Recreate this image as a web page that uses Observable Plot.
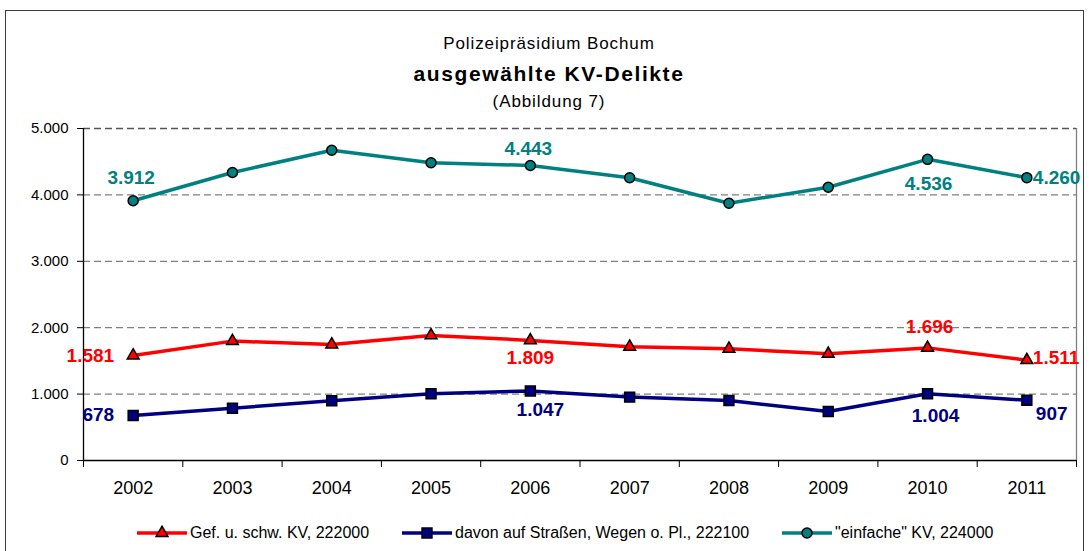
<!DOCTYPE html>
<html><head><meta charset="utf-8">
<script src="https://cdn.jsdelivr.net/npm/d3@7"></script>
<script src="https://cdn.jsdelivr.net/npm/@observablehq/plot@0.6"></script>
<style>
body{margin:0;background:#fff;font-family:"Liberation Sans",Arial,sans-serif}
#wrap{position:relative;width:1090px;height:551px;overflow:hidden;background:#fff}
#chart{position:absolute;left:0;top:0}
#frame{position:absolute;left:5px;top:10px;width:1079px;height:600px;border:1.5px solid #3c3c3c;box-sizing:border-box;pointer-events:none}
.t{position:absolute;left:0;width:1098px;text-align:center;color:#000;white-space:nowrap}
#t1{top:35px;font-size:17px;line-height:17px;letter-spacing:0.9px}
#t2{top:63px;font-size:21px;line-height:21px;font-weight:bold;letter-spacing:1.6px}
#t3{top:93px;font-size:17px;line-height:17px;letter-spacing:0.9px}
.lg{position:absolute;top:523px;height:20px;display:flex;align-items:center;font-size:16px;white-space:nowrap;color:#000}
.lg svg{display:block;margin-right:3px}
</style></head>
<body>
<div id="wrap">
  <div id="chart"></div>
  <div class="t" id="t1"></div>
  <div class="t" id="t2"></div>
  <div class="t" id="t3"></div>
  <div id="legend"></div>
  <div id="frame"></div>
</div>
<script>
// ---- data ----
const years = [2002, 2003, 2004, 2005, 2006, 2007, 2008, 2009, 2010, 2011];
const gefSchw  = [1581, 1798, 1747, 1884, 1809, 1712, 1682, 1606, 1696, 1511];
const strassen = [678, 788, 899, 1005, 1047, 955, 904, 737, 1004, 907];
const einfache = [3912, 4338, 4672, 4485, 4443, 4258, 3874, 4116, 4536, 4260];
const yTicks = [0, 1000, 2000, 3000, 4000, 5000];
const seriesNames = ["Gef. u. schw. KV, 222000", "davon auf Straßen, Wegen o. Pl., 222100", "\"einfache\" KV, 224000"];
const labelYears = [2002, 2006, 2010, 2011];
const titleLines = ["Polizeipräsidium Bochum", "ausgewählte KV-Delikte", "(Abbildung 7)"];

// ---- layout / style ----
const colors = ["#ff0000", "#000080", "#008080"];
const symbols = ["triangle", "square", "circle"];
const radii = [4.4, 5.6, 5];
const labelLayout = [
  [{dx:-19, dy:0, a:"end"}, {dx:0, dy:18, a:"middle"}, {dx:2, dy:-21, a:"middle"}, {dx:6, dy:-2, a:"start"}],
  [{dx:-19, dy:-1, a:"end"}, {dx:10, dy:19, a:"middle"}, {dx:8, dy:22, a:"middle"}, {dx:9, dy:14, a:"start"}],
  [{dx:-2, dy:-23, a:"middle"}, {dx:-2, dy:-17, a:"middle"}, {dx:1, dy:25, a:"middle"}, {dx:6, dy:0, a:"start"}]
];
const legendX = [137, 402, 782];

const de = d3.formatLocale({decimal: ",", thousands: ".", grouping: [3], currency: ["", " €"]});
const fmt = de.format(",d");

const seriesValues = [gefSchw, strassen, einfache];
const bounds = [years[0] - 0.5, ...years.map(y => y + 0.5)];

const marks = [
  Plot.ruleY(yTicks.filter(v => v > 0 && v < 5000), {stroke: "#808080", strokeWidth: 1.3, strokeDasharray: "7,4"}),
  Plot.ruleY([5000], {stroke: "#555", strokeWidth: 1.3, strokeDasharray: "7,4"}),
  Plot.ruleX([bounds[bounds.length - 1]], {stroke: "#808080", strokeWidth: 1.3}),
  Plot.ruleX([bounds[0]], {stroke: "#000", strokeWidth: 1.3}),
  Plot.ruleY([0], {stroke: "#000", strokeWidth: 1.3}),
  Plot.axisY({ticks: yTicks, tickFormat: fmt, tickSize: 6, tickPadding: 9, fontSize: 15, label: null}),
  Plot.axisX({ticks: bounds, tickSize: 7, tickFormat: () => "", label: null}),
  Plot.axisX({ticks: years, tickSize: 0, tickPadding: 21, tickFormat: d => String(d), fontSize: 18, label: null})
];

seriesValues.forEach((vals, s) => {
  const rows = years.map((yr, i) => ({year: yr, value: vals[i]}));
  marks.push(Plot.line(rows, {x: "year", y: "value", stroke: colors[s], strokeWidth: 3.5}));
  marks.push(Plot.dot(rows, {x: "year", y: "value", symbol: symbols[s], r: radii[s], fill: colors[s], stroke: "#000", strokeWidth: 1.5}));
  labelYears.forEach((ly, k) => {
    const row = rows.find(r => r.year === ly);
    const L = labelLayout[s][k];
    marks.push(Plot.text([row], {x: "year", y: "value", text: d => fmt(d.value), dx: L.dx, dy: L.dy, textAnchor: L.a,
      fill: colors[s], fontSize: 19, fontWeight: "bold"}));
  });
});

const chart = Plot.plot({
  width: 1090, height: 500,
  marginTop: 128, marginBottom: 40, marginLeft: 83, marginRight: 14,
  x: {type: "linear", domain: [bounds[0], bounds[bounds.length - 1]]},
  y: {domain: [0, 5000]},
  style: {background: "transparent", fontFamily: "Liberation Sans, Arial, sans-serif", color: "#000"},
  marks
});
document.getElementById("chart").append(chart);

document.getElementById("t1").textContent = titleLines[0];
document.getElementById("t2").textContent = titleLines[1];
document.getElementById("t3").textContent = titleLines[2];

// legend
const lg = document.getElementById("legend");
seriesNames.forEach((name, s) => {
  const item = document.createElement("div");
  item.className = "lg";
  item.style.left = legendX[s] + "px";
  const sw = d3.create("svg").attr("width", 50).attr("height", 20);
  sw.append("line").attr("x1", 0).attr("x2", 50).attr("y1", 10).attr("y2", 10)
    .attr("stroke", colors[s]).attr("stroke-width", 3.5);
  const sym = {triangle: d3.symbolTriangle, square: d3.symbolSquare, circle: d3.symbolCircle}[symbols[s]];
  sw.append("path").attr("d", d3.symbol(sym, radii[s] * radii[s] * Math.PI)())
    .attr("transform", "translate(25,10)").attr("fill", colors[s]).attr("stroke", "#000").attr("stroke-width", 1.5);
  item.append(sw.node());
  const tx = document.createElement("span");
  tx.textContent = name;
  item.append(tx);
  lg.append(item);
});
</script>
</body></html>
